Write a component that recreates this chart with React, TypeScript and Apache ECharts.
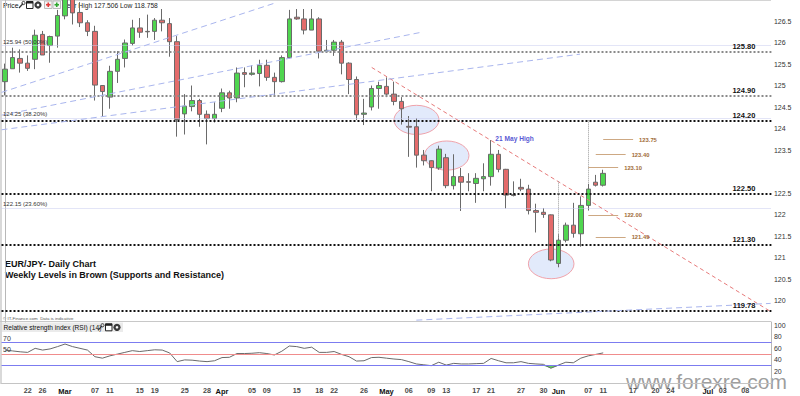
import React, { useEffect, useRef } from "react";
import * as echarts from "echarts";

const FONT = '"Liberation Sans", Arial, Helvetica, sans-serif';

// ---- sessions (weekdays from 19 Feb 2019) ----
const SESSIONS = 103;
const categories: string[] = (() => {
  const out: string[] = [];
  let t = Date.UTC(2019, 1, 19);
  while (out.length < SESSIONS) {
    const d = new Date(t);
    const wd = d.getUTCDay();
    if (wd !== 0 && wd !== 6) out.push(d.toISOString().slice(0, 10));
    t += 86400000;
  }
  return out;
})();

const tickIndex = [3, 5, 8, 12, 14, 18, 20, 24, 27, 29, 33, 35, 39, 42, 44, 48, 51, 54, 57, 59, 63, 65, 69, 72, 74, 78, 80, 84, 87, 89, 94, 96, 99];
const tickLabel = ["22", "26", "Mar", "07", "11", "15", "19", "25", "28", "Apr", "05", "09", "15", "18", "22", "26", "May", "06", "09", "13", "17", "21", "27", "30", "Jun", "07", "11", "17", "20", "24", "Jul", "03", "08"];
const monthLabels = ["Mar", "Apr", "May", "Jun", "Jul"];
// price-axis labels hidden behind the last-price tag
const hiddenPriceTicks = [123];

// ---- OHLC ----
const opens = [
  125.10, 125.40, 125.64, 125.53, 125.62, 126.20, 125.94, 126.16, 126.63, 127.30,
  126.71, 126.47, 126.27, 125.01, 124.74, 125.34, 125.64, 125.99, 126.35, 126.27,
  126.27, 126.53, 126.45, 126.03, 124.35, 124.52, 124.66, 124.34, 124.24, 124.48,
  124.84, 124.72, 125.31, 125.27, 125.29, 125.48, 125.20, 125.10, 125.66, 126.60,
  126.56, 126.30, 126.56, 125.81, 125.83, 126.02, 125.53, 125.15, 124.34, 124.51,
  124.94, 124.99, 124.81, 124.64, 124.06, 124.05, 123.39, 123.26, 123.09, 123.33,
  122.68, 122.89, 122.77, 122.73, 122.84, 122.89, 123.41, 123.06, 122.47, 122.64,
  122.60, 122.10, 122.06, 122.00, 120.87, 121.41, 121.76, 121.56, 122.22, 122.76,
  122.69,
];
const closes = [
  125.39, 125.66, 125.53, 125.41, 126.18, 125.72, 126.15, 126.64, 127.05, 126.70,
  126.47, 126.27, 125.02, 124.87, 125.34, 125.62, 126.00, 126.35, 126.25, 126.26,
  126.53, 126.47, 126.03, 124.22, 124.53, 124.66, 124.34, 124.24, 124.34, 124.84,
  124.72, 125.30, 125.27, 125.30, 125.48, 125.20, 125.10, 125.66, 126.56, 126.56,
  126.30, 126.56, 125.81, 125.83, 126.02, 125.53, 125.15, 124.33, 124.37, 124.94,
  125.01, 124.81, 124.64, 124.47, 124.04, 123.39, 123.26, 123.10, 123.53, 122.68,
  122.89, 122.76, 122.76, 122.85, 122.89, 123.41, 123.06, 122.46, 122.45, 122.60,
  122.10, 122.06, 122.01, 120.95, 121.41, 121.76, 121.57, 122.22, 122.60, 122.69,
  122.966,
];
const lows = [
  124.78, 125.40, 125.31, 125.35, 125.39, 125.72, 125.54, 125.89, 126.55, 126.43,
  126.37, 126.16, 124.66, 124.28, 124.47, 125.07, 125.43, 125.94, 126.12, 126.12,
  126.07, 126.27, 125.68, 123.82, 123.87, 124.41, 124.05, 123.64, 124.15, 124.39,
  124.47, 124.62, 124.97, 125.24, 124.99, 125.12, 124.78, 125.08, 125.64, 126.54,
  126.20, 126.30, 125.64, 125.77, 125.70, 125.27, 124.81, 124.21, 124.09, 124.43,
  124.47, 124.74, 124.55, 124.10, 123.35, 123.10, 123.15, 122.55, 123.05, 122.62,
  122.59, 122.09, 122.55, 122.28, 122.55, 122.68, 122.99, 122.15, 122.43, 122.55,
  122.01, 121.59, 121.93, 120.92, 120.78, 121.36, 121.47, 121.26, 122.10, 122.66,
  122.66,
];
const highs = [
  125.52, 125.89, 125.85, 125.71, 126.31, 126.28, 126.17, 126.77, 127.25, 127.51,
  126.95, 126.53, 126.40, 125.02, 125.47, 125.81, 126.08, 126.54, 126.58, 126.66,
  126.58, 126.79, 126.58, 126.16, 124.81, 125.01, 124.70, 124.43, 124.62, 124.94,
  124.89, 125.43, 125.43, 125.48, 125.61, 125.61, 125.31, 125.71, 126.77, 126.79,
  126.79, 126.79, 126.60, 126.07, 126.07, 126.07, 125.55, 125.22, 124.70, 125.01,
  125.10, 125.20, 125.10, 124.74, 124.30, 124.25, 123.51, 123.27, 123.61, 123.42,
  123.41, 123.09, 122.97, 122.97, 123.20, 123.74, 123.51, 123.07, 122.78, 122.84,
  122.70, 122.26, 122.16, 122.01, 121.55, 121.82, 122.28, 122.43, 122.72, 122.93,
  123.05,
];

// ---- RSI(14) ----
const rsi = [
  57, 55.5, 54, 53, 60, 57, 59, 63, 67.5, 63,
  60, 57, 45.5, 43, 47, 50, 53, 56, 54.5, 56,
  57.5, 57, 52, 37, 40, 39.5, 38, 37, 38.5, 44,
  44.5, 51, 51, 51.5, 52.5, 51, 48.5, 55, 64, 63,
  60, 62, 53, 53, 54.5, 49.5, 45.5, 38, 38.5, 44,
  44.5, 43, 41.5, 40.5, 37, 33, 31.5, 30, 36, 31,
  34, 33, 33, 33.5, 34, 42.5, 38.5, 35, 35, 37,
  34, 33, 32.3, 25.5, 31, 36, 35, 43, 47, 49.5, 52.15,
];
const lastPrice = 122.966;
const lastRsi = 52.15;

// ---- levels ----
const levelValues = [125.8, 124.78, 124.2, 122.5, 121.3, 119.78];
const levelLabels = ["125.80", "124.90", "124.20", "122.50", "121.30", "119.78"];
const levelStrong = [false, false, true, true, true, true];

const fibValues = [125.94, 124.25, 122.15];
const fibLabels = ["125.94 (50.00%)", "124.25 (38.20%)", "122.15 (23.60%)"];

const weeklyValues = [123.75, 123.4, 123.1, 122.0, 121.49];
const weeklyLabels = ["123.75", "123.40", "123.10", "122.00", "121.49"];
const weeklyFrom = [80, 79, 78, 78, 79];
const weeklyTo = [84, 83, 82, 82, 83];

// trend lines: [[session, price], [session, price]]
const redTrend = [[49.03, 125.43], [102.4, 119.75]];
const blueTrends = [
  [[-0.5, 124.85], [36.1, 126.93]],
  [[-0.5, 124.32], [55.7, 126.25]],
  [[-0.5, 123.98], [76.9, 125.74]],
  [[55, 119.55], [102.4, 119.94]],
];
// vertical markers: [session, top price, bottom price]
const vMarkers = [[78, 124.2, 122.72], [74, 122.78, 121.45]];
// ellipses: [session, price, half-width sessions, half-height price]
const ellipses = [
  [55.02, 124.21, 3.01, 0.339],
  [59.06, 123.38, 2.98, 0.339],
  [73.04, 120.86, 3.05, 0.346],
];
const mayHigh = [65.5, 123.78];

function iconSet(x0: number, y0: number) {
  return [
    { type: "line", shape: { x1: x0 + 1, y1: y0 + 7, x2: x0 + 5, y2: y0 + 2.5 }, style: { stroke: "#333", lineWidth: 1.2 } },
    { type: "circle", shape: { cx: x0 + 5.5, cy: y0 + 2, r: 1.6 }, style: { fill: "none", stroke: "#333", lineWidth: 1 } },
    { type: "rect", shape: { x: x0 + 8.5, y: y0 + 0.5, width: 6.5, height: 7 }, style: { fill: "#fff", stroke: "#222", lineWidth: 1 } },
    { type: "rect", shape: { x: x0 + 8.5, y: y0 + 0.5, width: 6.5, height: 2 }, style: { fill: "#222" } },
    { type: "circle", shape: { cx: x0 + 20, cy: y0 + 4, r: 3.6 }, style: { fill: "#3a3a3a" } },
    { type: "circle", shape: { cx: x0 + 20, cy: y0 + 4, r: 1.3 }, style: { fill: "#fff" } },
  ];
}

function plusBox(x: number, y: number, color: string) {
  return [
    { type: "rect", shape: { x, y, width: 7.5, height: 7.5 }, style: { fill: "#f4f4f4", stroke: "#bbb", lineWidth: 1 } },
    { type: "line", shape: { x1: x + 1.5, y1: y + 3.75, x2: x + 6, y2: y + 3.75 }, style: { stroke: color, lineWidth: 1.6 } },
    { type: "line", shape: { x1: x + 3.75, y1: y + 1.5, x2: x + 3.75, y2: y + 6 }, style: { stroke: color, lineWidth: 1.6 } },
  ];
}

function buildOption() {
  const candleData = opens.map((o, i) => [o, closes[i], lows[i], highs[i]]);
  const dipBase = rsi.map((v) => Math.min(v, 30));
  const dipFill = rsi.map((v) => 30 - Math.min(v, 30));

  const levelLines = levelValues.map((v, i) => ({
    yAxis: v,
    lineStyle: levelStrong[i]
      ? { color: "#111", width: 2, type: "dotted" }
      : { color: "#8a8a8a", width: 2, type: "dotted" },
    label: {
      show: true,
      position: "insideEndTop",
      formatter: levelLabels[i],
      distance: [16, 1],
      fontSize: 7.5,
      fontWeight: "bold",
      color: "#111",
      fontFamily: FONT,
    },
  }));
  const fibLines = fibValues.map((v, i) => ({
    yAxis: v,
    lineStyle: { color: "#c6cbee", width: 1, type: "dotted" },
    label: {
      show: true,
      position: "insideStartTop",
      formatter: fibLabels[i],
      distance: [1.5, 1],
      fontSize: 6,
      color: "#333",
      fontFamily: FONT,
    },
  }));
  const priceTag = {
    yAxis: lastPrice,
    lineStyle: { opacity: 0 },
    label: {
      show: true,
      position: "end",
      formatter: lastPrice.toFixed(3),
      distance: 1.5,
      backgroundColor: "#f3c13a",
      color: "#222",
      padding: [1.5, 2, 1, 2],
      fontSize: 7,
      fontFamily: FONT,
    },
  };

  const segLines: any[] = [];
  segLines.push([
    { coord: redTrend[0], lineStyle: { color: "#e77a7a", width: 1, type: [4, 3] }, label: { show: false } },
    { coord: redTrend[1] },
  ]);
  blueTrends.forEach((t) =>
    segLines.push([
      { coord: t[0], lineStyle: { color: "#aab6ee", width: 1, type: [6, 4] }, label: { show: false } },
      { coord: t[1] },
    ])
  );
  weeklyValues.forEach((v, i) =>
    segLines.push([
      {
        coord: [weeklyFrom[i], v],
        lineStyle: { color: "#cda883", width: 1, type: "solid" },
        label: {
          show: true,
          position: "end",
          formatter: weeklyLabels[i],
          distance: 6,
          fontSize: 5.8,
          fontWeight: "bold",
          color: "#a06a35",
          fontFamily: FONT,
        },
      },
      { coord: [weeklyTo[i], v] },
    ])
  );
  vMarkers.forEach((m) =>
    segLines.push([
      { coord: [m[0], m[1]], lineStyle: { color: "#9a9a9a", width: 1, type: "dotted" }, label: { show: false } },
      { coord: [m[0], m[2]] },
    ])
  );

  const graphics: any[] = [
    { type: "rect", shape: { x: 0, y: 0, width: 2, height: 384 }, style: { fill: "#d9d9d9" }, silent: true },
    { type: "line", shape: { x1: 0, y1: 0.5, x2: 771, y2: 0.5 }, style: { stroke: "#d4d4d4", lineWidth: 1 } },
    { type: "line", shape: { x1: 0, y1: 321.5, x2: 771, y2: 321.5 }, style: { stroke: "#c8c8c8", lineWidth: 1 } },
    { type: "text", x: 3, y: 5, style: { text: "Price", fontSize: 6.8, fill: "#111", verticalAlign: "middle", fontFamily: FONT } },
    ...iconSet(18, 1),
    ...plusBox(44.5, 1, "#e23b3b"),
    ...plusBox(53, 1, "#2fa82f"),
    { type: "text", x: 63, y: 5, style: { text: "Year High 127.506 Low 118.758", fontSize: 6.7, fill: "#222", verticalAlign: "middle", fontFamily: FONT } },
    { type: "text", x: 5, y: 263.5, style: { text: "EUR/JPY- Daily Chart", fontSize: 9, fontWeight: "bold", fill: "#111", verticalAlign: "middle", fontFamily: FONT } },
    { type: "text", x: 5, y: 274.8, style: { text: "Weekly Levels in Brown (Supports and Resistance)", fontSize: 9, fontWeight: "bold", fill: "#111", verticalAlign: "middle", fontFamily: FONT } },
    { type: "text", x: 3, y: 318.6, style: { text: "\u00a9 IT-Finance.com  Data is indicative", fontSize: 4.4, fill: "#555", verticalAlign: "middle", fontFamily: FONT } },
    { type: "rect", shape: { x: 2, y: 322.5, width: 121, height: 9.5 }, style: { fill: "#ebebeb" } },
    { type: "text", x: 3.5, y: 327.4, style: { text: "Relative strength index (RSI) (14)", fontSize: 6.6, fill: "#111", verticalAlign: "middle", fontFamily: FONT } },
    ...iconSet(97, 323.3),
    { type: "text", x: 626, y: 381, style: { text: "www.forexre.com", fontSize: 21, fill: "rgba(115,115,115,0.7)", verticalAlign: "middle", fontFamily: FONT } },
  ];

  return {
    animation: false,
    textStyle: { fontFamily: FONT },
    grid: [
      { left: 1.5, width: 769.9, top: -3.2, height: 325.5 },
      { left: 1.5, width: 769.9, top: 322, height: 61 },
    ],
    xAxis: [
      { type: "category", gridIndex: 0, data: categories, boundaryGap: true, show: false },
      { type: "value", gridIndex: 0, min: -0.5, max: SESSIONS - 0.5, show: false },
      {
        type: "category",
        gridIndex: 1,
        data: categories,
        boundaryGap: true,
        axisLine: { show: true, lineStyle: { color: "#c4c4c4" } },
        axisTick: { show: false },
        splitLine: { show: false },
        axisLabel: {
          interval: (i: number) => tickIndex.indexOf(i) >= 0,
          formatter: (_v: string, i: number) => {
            const k = tickIndex.indexOf(i);
            if (k < 0) return "";
            const t = tickLabel[k];
            return monthLabels.indexOf(t) >= 0 ? "{m|" + t + "}" : "{d|" + t + "}";
          },
          margin: 4,
          rich: {
            m: { fontSize: 7.5, fontWeight: "bold", color: "#111", fontFamily: FONT },
            d: { fontSize: 7.2, fontWeight: "bold", color: "#4a4a4a", fontFamily: FONT },
          },
        },
      },
    ],
    yAxis: [
      {
        type: "value",
        gridIndex: 0,
        position: "right",
        min: 119.5,
        max: 127,
        interval: 0.5,
        axisLine: { show: true, lineStyle: { color: "#b8b8b8" } },
        axisTick: { show: false },
        splitLine: { show: false },
        axisLabel: {
          showMinLabel: false,
          showMaxLabel: false,
          fontSize: 7,
          color: "#333",
          margin: 2.5,
          formatter: (v: number) => (hiddenPriceTicks.indexOf(v) >= 0 ? "" : String(v)),
        },
      },
      {
        type: "value",
        gridIndex: 1,
        position: "right",
        min: 0,
        max: 105.6,
        interval: 20,
        axisLine: { show: true, lineStyle: { color: "#b8b8b8" } },
        axisTick: { show: false },
        splitLine: { show: false },
        axisLabel: { showMinLabel: false, showMaxLabel: false, fontSize: 7, color: "#333", margin: 2.5 },
      },
    ],
    graphic: { z: 100, elements: graphics },
    series: [
      {
        type: "custom",
        xAxisIndex: 1,
        yAxisIndex: 0,
        z: 1,
        silent: true,
        data: ellipses,
        encode: { x: 0, y: 1 },
        renderItem: (_p: any, api: any) => {
          const c = api.coord([api.value(0), api.value(1)]);
          const s = api.size([api.value(2), api.value(3)], [api.value(0), api.value(1)]);
          return {
            type: "ellipse",
            shape: { cx: c[0], cy: c[1], rx: s[0], ry: s[1] },
            style: { fill: "rgba(203,216,247,0.55)", stroke: "#f0a3ab", lineWidth: 1 },
          };
        },
      },
      {
        type: "candlestick",
        xAxisIndex: 0,
        yAxisIndex: 0,
        z: 3,
        barWidth: 5,
        data: candleData,
        itemStyle: {
          color: "#4fd64f",
          color0: "#e46b6b",
          borderColor: "#6a6a6a",
          borderColor0: "#6a6a6a",
          borderColorDoji: "#444",
          borderWidth: 1,
        },
        markLine: {
          silent: true,
          symbol: ["none", "none"],
          animation: false,
          data: [...fibLines, ...levelLines, priceTag],
        },
      },
      {
        type: "scatter",
        xAxisIndex: 1,
        yAxisIndex: 0,
        z: 2,
        silent: true,
        symbolSize: 1,
        itemStyle: { color: "rgba(0,0,0,0)" },
        data: [mayHigh],
        label: {
          show: true,
          position: "right",
          distance: 0,
          formatter: "21 May High",
          fontSize: 6.6,
          fontWeight: "bold",
          color: "#2a2ac8",
          fontFamily: FONT,
        },
        markLine: {
          silent: true,
          symbol: ["none", "none"],
          animation: false,
          data: segLines,
        },
      },
      {
        type: "line",
        xAxisIndex: 2,
        yAxisIndex: 1,
        data: dipBase,
        stack: "dip",
        symbol: "none",
        silent: true,
        lineStyle: { opacity: 0 },
      },
      {
        type: "line",
        xAxisIndex: 2,
        yAxisIndex: 1,
        data: dipFill,
        stack: "dip",
        symbol: "none",
        silent: true,
        lineStyle: { opacity: 0 },
        areaStyle: { color: "#63cf63", opacity: 1 },
      },
      {
        type: "line",
        xAxisIndex: 2,
        yAxisIndex: 1,
        data: rsi,
        symbol: "none",
        silent: true,
        z: 4,
        lineStyle: { color: "#6a6a6a", width: 1 },
        markLine: {
          silent: true,
          symbol: ["none", "none"],
          animation: false,
          data: [
            { yAxis: 70, lineStyle: { color: "#7c7cf0", width: 1, type: "solid" }, label: { show: true, position: "insideStartTop", formatter: "70", distance: [1.5, 1], fontSize: 7, color: "#333" } },
            { yAxis: 50, lineStyle: { color: "#f08c8c", width: 1, type: "solid" }, label: { show: true, position: "insideStartTop", formatter: "50", distance: [1.5, 1], fontSize: 7, color: "#333" } },
            { yAxis: 30, lineStyle: { color: "#7c7cf0", width: 1, type: "solid" }, label: { show: false } },
            {
              yAxis: lastRsi,
              lineStyle: { opacity: 0 },
              label: {
                show: true,
                position: "end",
                formatter: lastRsi.toFixed(3),
                distance: 1.5,
                backgroundColor: "#fff",
                borderColor: "#999",
                borderWidth: 1,
                color: "#222",
                padding: [1, 2, 0.5, 2],
                fontSize: 7,
              },
            },
          ],
        },
      },
    ],
  };
}

export default function App() {
  const ref = useRef<HTMLDivElement>(null);
  useEffect(() => {
    if (!ref.current) return;
    const chart = echarts.init(ref.current, null, { renderer: "svg" });
    chart.setOption(buildOption() as any);
    return () => chart.dispose();
  }, []);
  return (
    <div style={{ position: "fixed", left: 0, top: 0, width: 800, height: 396, background: "#fff" }}>
      <div ref={ref} style={{ width: 800, height: 396 }} />
    </div>
  );
}
